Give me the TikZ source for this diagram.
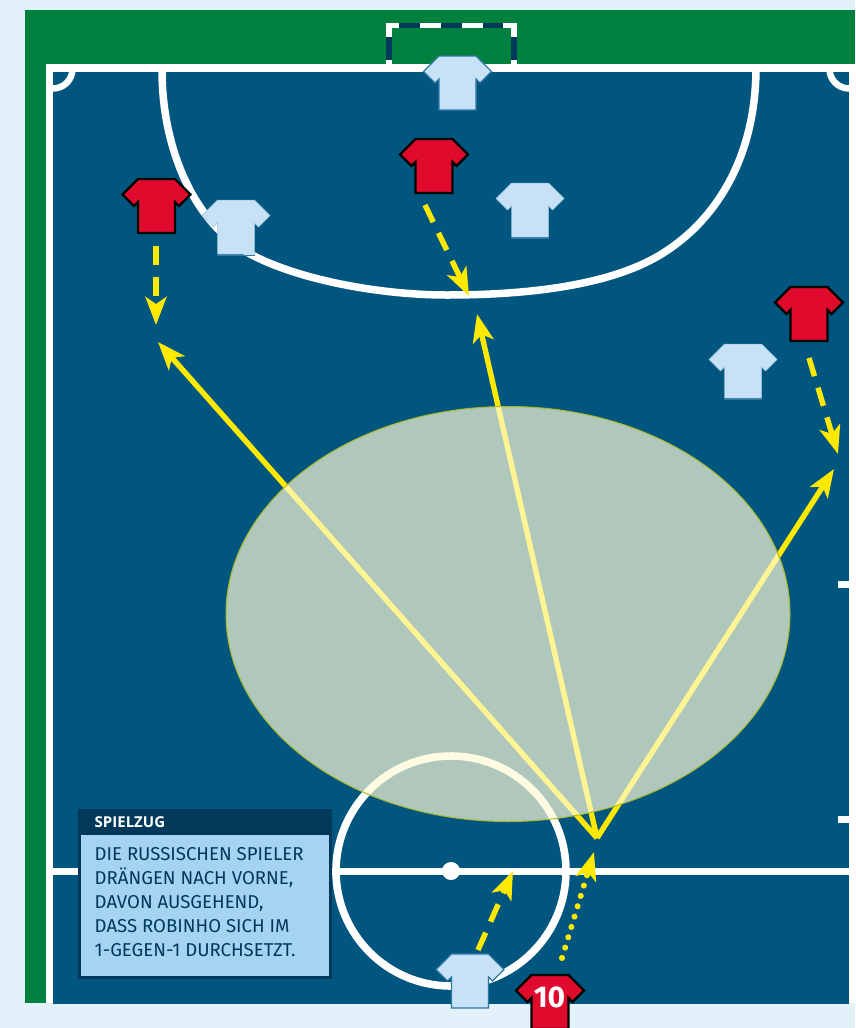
\documentclass[tikz,border=0pt]{standalone}
\usepackage{fontspec}
\setmainfont{Fira Sans}
\newfontfamily\headfont{Open Sans}
\usetikzlibrary{arrows.meta}
\definecolor{pagebg}{HTML}{E3F1FB}
\definecolor{turf}{HTML}{00803F}
\definecolor{field}{HTML}{00567F}
\definecolor{navy}{HTML}{00395A}
\definecolor{boxblue}{HTML}{A5D3F2}
\definecolor{shirtred}{HTML}{E00A2D}
\definecolor{shirtlight}{HTML}{C7E2F6}
\definecolor{shirtedge}{HTML}{2F78A5}
\definecolor{arrowyellow}{HTML}{FFE900}
\definecolor{zonefill}{RGB}{255,250,214}
\definecolor{zoneedge}{HTML}{A9B92A}
\tikzset{
  pitchline/.style={draw=white,line width=7pt},
  pass/.style={draw=arrowyellow,line width=5.4pt,-{Stealth[length=28pt,width=21pt,inset=7pt]}},
  run/.style={pass,dash pattern=on 19pt off 12pt},
  dribble/.style={pass,line cap=round,dash pattern=on 0.1pt off 10.7pt,line width=6pt},
  pics/shirt/.style={code={
    \path[pic actions] (-18.5,0)--(18.5,0)--(34,15.5)--(22.5,27)--(18.5,23)--(18.5,54)--(-18.5,54)--(-18.5,23)--(-22.5,27)--(-34,15.5)--cycle;
  }},
  pics/hemline/.style={code={
    \draw[shirtedge,line width=1pt] (-19,55)--(19,55);
  }},
  redshirt/.style={draw=black,line width=2.4pt,fill=shirtred,line join=miter},
  lightshirt/.style={draw=shirtlight!70!shirtedge,line width=0.5pt,fill=shirtlight,line join=miter},
  edgedshirt/.style={draw=shirtedge,line width=1.1pt,fill=shirtlight,line join=miter},
}
\begin{document}
\begin{tikzpicture}[x=1pt,y=-1pt]
\useasboundingbox (0,0) rectangle (855,1028);
\fill[pagebg] (0,0) rectangle (855,1028);
\fill[turf] (25,10) rectangle (855,1003);
% goal
\fill[white] (386,23) rectangle (517,28);
\fill[white] (386,23) rectangle (392,72);
\fill[white] (511,23) rectangle (517,72);
\foreach \a/\b in {399/420,441/462,483/503}{\fill[navy] (\a,23) rectangle (\b,28);}
\fill[navy] (386,37) rectangle (392,60);
\fill[navy] (511,37) rectangle (517,60);
% field
\fill[white] (46,64) rectangle (855,1003);
\fill[field] (53,72) rectangle (849,1004);
\begin{scope}
\clip (53,72) rectangle (849,1004);
\draw[pitchline,line width=6.5pt] (53,69) circle[radius=19.5pt];
\draw[pitchline,line width=6.5pt] (849,69) circle[radius=19.5pt];
\end{scope}
% penalty area
\draw[pitchline,line width=7.5pt] (162,70) .. controls (162,150) and (195,225) .. (252,255)
  .. controls (300,280) and (380,295) .. (447,295)
  .. controls (530,295) and (610,285) .. (660,255)
  .. controls (710,225) and (755,165) .. (756,70);
% halfway line and centre
\draw[pitchline] (53,871.5) -- (849,871.5);
\draw[pitchline,line width=7.6pt] (451,871) circle[radius=115pt];
\fill[white] (451,871) circle[radius=9pt];
\fill[white] (838,580.5) rectangle (849,587.5);
\fill[white] (838,815.5) rectangle (849,822.5);
% pass arrows
\coordinate (hub) at (597,838);
\coordinate (targetL) at (158,342);
\coordinate (targetM) at (477,314);
\coordinate (targetR) at (834,469);
\draw[pass] (hub) -- (targetL);
\draw[pass] (hub) -- (targetM);
\draw[pass] (hub) -- (targetR);
% zone
\fill[zonefill,fill opacity=0.69] (508,614) ellipse[x radius=282pt,y radius=207.5pt];
\draw[zoneedge,line width=1pt] (508,614) ellipse[x radius=282pt,y radius=207.5pt];
% shirts
\pic[lightshirt] at (236,200) {shirt};
\pic at (236,200) {hemline};
\pic[edgedshirt] at (457.5,56) {shirt};
\pic[lightshirt] at (530,183) {shirt};
\pic at (530,183) {hemline};
\pic[lightshirt] at (743,344) {shirt};
\pic at (743,344) {hemline};
\pic[edgedshirt] at (470,954) {shirt};
\pic[redshirt] at (156.5,179) {shirt};
\pic[redshirt] at (434,139) {shirt};
\pic[redshirt] at (809,287) {shirt};
\pic[redshirt] at (550,975) {shirt};
\node[text=white,font=\bfseries\fontsize{30}{30}\selectfont,inner sep=0pt] (ten) at (549.5,997) {10};
% runs
\coordinate (runAs) at (156,246);
\coordinate (runAe) at (156,325);
\coordinate (runBs) at (425,205);
\coordinate (runBe) at (469,296);
\coordinate (runCs) at (809,358);
\coordinate (runCe) at (838,454);
\coordinate (runDs) at (478,950);
\coordinate (runDe) at (513,871);
\coordinate (runEs) at (562,958);
\coordinate (runEe) at (594,852);
\draw[run] (runAs) -- (runAe);
\draw[run] (runBs) -- (runBe);
\draw[run] (runCs) -- (runCe);
\draw[run] (runDs) -- (runDe);
\draw[dribble] (runEs) -- (runEe);
% text box
\fill[navy] (78,809) rectangle (332,979);
\fill[boxblue] (81,834.5) rectangle (329,976);
\node[anchor=base west,inner sep=0pt,text=white,font=\headfont\bfseries\fontsize{15}{15}\selectfont] (boxhead) at (94.5,827.5) {SPIELZUG};
\node[anchor=north west,inner sep=0pt,text=navy,align=left,font=\fontsize{18.6}{24}\selectfont] (boxbody) at (94.5,847) {DIE RUSSISCHEN SPIELER\\DRÄNGEN NACH VORNE,\\DAVON AUSGEHEND,\\DASS ROBINHO SICH IM\\1-GEGEN-1 DURCHSETZT.};
\end{tikzpicture}
\end{document}
